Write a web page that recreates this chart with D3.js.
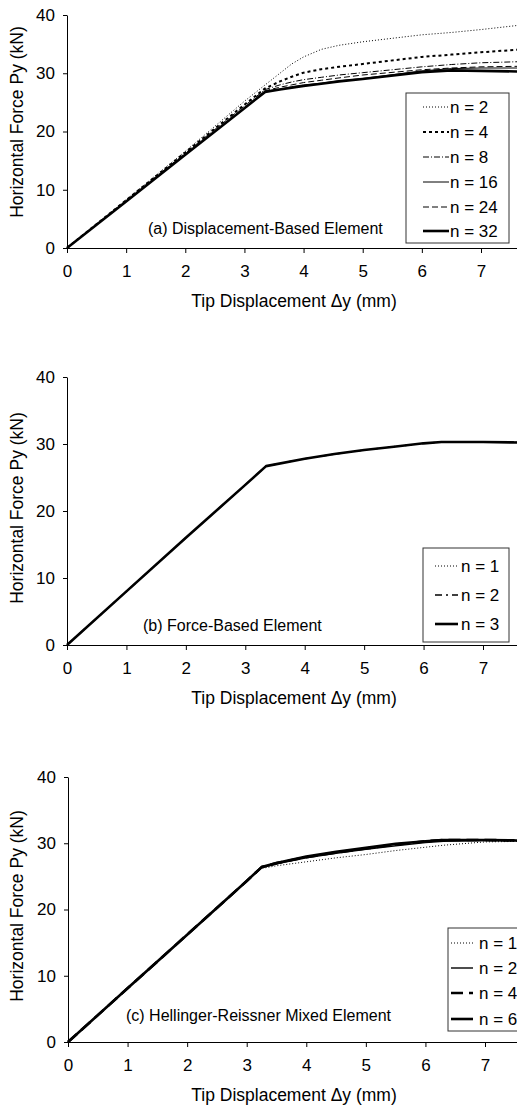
<!DOCTYPE html>
<html>
<head>
<meta charset="utf-8">
<script src="https://cdn.jsdelivr.net/npm/d3@7"></script>
<style>
body { margin: 0; background: #fff; }
text { font-family: Arial, "Liberation Sans", sans-serif; fill: #000; }
</style>
</head>
<body>
<script>
var W = 517, H = 1108;

// axis ticks
var dispTicks = [0, 1, 2, 3, 4, 5, 6, 7];
var forceTicks = [0, 10, 20, 30, 40];

// (a) displacement-based element
var dispA = [0, 1, 2, 3, 3.35, 3.6, 3.8, 4, 4.3, 4.6, 5, 6, 6.5, 7, 7.7];
var aN2  = [0, 8.3, 16.6, 25.2, 28.0, 30.0, 31.6, 32.8, 34.1, 34.8, 35.4, 36.6, 37.0, 37.5, 38.3];
var aN4  = [0, 8.2, 16.4, 24.6, 27.4, 28.6, 29.4, 30.1, 30.7, 31.1, 31.6, 32.8, 33.2, 33.6, 34.1];
var aN8  = [0, 8.1, 16.3, 24.4, 27.2, 28.0, 28.5, 28.9, 29.3, 29.7, 30.1, 31.1, 31.5, 31.8, 32.0];
var aN16 = [0, 8.0, 16.0, 24.0, 26.9, 27.3, 27.7, 28.0, 28.3, 28.7, 29.1, 30.4, 30.8, 30.9, 30.9];
var aN24 = [0, 8.0, 16.1, 24.1, 27.0, 27.6, 28.0, 28.4, 28.8, 29.2, 29.7, 30.6, 30.9, 31.1, 31.2];
var aN32 = [0, 8.0, 16.0, 24.0, 26.8, 27.2, 27.5, 27.8, 28.2, 28.6, 29.0, 30.2, 30.5, 30.4, 30.3];

// (b) force-based element
var dispB = [0, 1, 2, 3, 3.35, 4, 4.5, 5, 5.5, 6, 6.3, 7, 7.7];
var bN1 = [0, 8.0, 16.0, 23.9, 26.7, 27.8, 28.5, 29.1, 29.6, 30.1, 30.3, 30.3, 30.3];
var bN2 = [0, 8.0, 16.0, 23.9, 26.7, 27.8, 28.5, 29.1, 29.6, 30.1, 30.3, 30.3, 30.3];
var bN3 = [0, 8.0, 16.0, 23.9, 26.7, 27.8, 28.5, 29.1, 29.6, 30.1, 30.3, 30.3, 30.2];

// (c) Hellinger-Reissner mixed element
var dispC = [0, 1, 2, 3, 3.25, 3.5, 4, 4.5, 5, 5.5, 6, 6.3, 7, 7.7];
var cN1 = [0, 8.1, 16.2, 24.3, 26.2, 26.6, 27.2, 27.8, 28.3, 28.9, 29.4, 29.7, 30.2, 30.3];
var cN2 = [0, 8.1, 16.2, 24.3, 26.3, 26.9, 27.8, 28.5, 29.1, 29.6, 30.1, 30.3, 30.4, 30.4];
var cN4 = [0, 8.1, 16.2, 24.3, 26.4, 27.0, 27.9, 28.6, 29.2, 29.8, 30.3, 30.5, 30.5, 30.4];
var cN6 = [0, 8.1, 16.2, 24.3, 26.4, 27.0, 28.0, 28.7, 29.3, 29.9, 30.3, 30.5, 30.5, 30.4];

// line styles
var dotted = {w: 1, dash: "1,2"};
var thickDot = {w: 2, dash: "3,3"};
var dashDot = {w: 1, dash: "6,2,1,2"};
var thin = {w: 1, dash: null};
var dashed = {w: 1, dash: "6,3"};
var thick = {w: 2.6, dash: null};
var longDashDot = {w: 1.5, dash: "7,4,2,4"};
var midSolid = {w: 1.4, dash: null};
var longDash = {w: 2.6, dash: "12,6"};

var tickFont = 17, titleFont = 17.5, noteFont = 16, legFont = 17;

var svg = d3.select("body").append("svg")
  .attr("width", W)
  .attr("height", H);

function drawPanel(p) {
  var x = d3.scaleLinear().domain([0, 7]).range([p.x0, p.x7]);
  var y = d3.scaleLinear().domain([0, 40]).range([p.y0, p.y40]);
  var g = svg.append("g");

  // x axis
  g.append("g")
    .attr("transform", "translate(0," + p.y0 + ")")
    .call(d3.axisBottom(x).tickValues(dispTicks).tickFormat(d3.format("d"))
      .tickSize(5).tickSizeOuter(0).tickPadding(12))
    .call(function(a) {
      a.select(".domain").attr("d", "M" + p.x0 + ",0.5H" + W);
      a.selectAll("text").attr("font-size", tickFont).style("font-family", "Arial, 'Liberation Sans', sans-serif");
    });

  // y axis
  g.append("g")
    .attr("transform", "translate(" + p.x0 + ",0)")
    .call(d3.axisLeft(y).tickValues(forceTicks).tickSize(4).tickSizeOuter(0).tickPadding(8))
    .call(function(a) {
      a.selectAll("text").attr("font-size", tickFont).style("font-family", "Arial, 'Liberation Sans', sans-serif");
    });

  g.append("text")
    .attr("x", 294)
    .attr("y", p.y0 + 59)
    .attr("text-anchor", "middle")
    .attr("font-size", titleFont)
    .text("Tip Displacement \u0394y  (mm)");

  g.append("text")
    .attr("transform", "translate(23," + p.ylabY + ") rotate(-90)")
    .attr("text-anchor", "middle")
    .attr("font-size", titleFont)
    .text("Horizontal Force Py (kN)");

  g.append("text")
    .attr("x", p.labelX)
    .attr("y", p.labelY)
    .attr("font-size", noteFont)
    .text(p.label);

  var line = d3.line()
    .x(function(d) { return x(d[0]); })
    .y(function(d) { return y(d[1]); });

  p.series.forEach(function(s) {
    var pts = p.disp.map(function(d, i) { return [d, s.vals[i]]; });
    g.append("path")
      .attr("d", line(pts))
      .attr("fill", "none")
      .attr("stroke", "#000")
      .attr("stroke-width", s.style.w)
      .attr("stroke-linejoin", "round")
      .attr("stroke-dasharray", s.style.dash);
  });

  // legend
  var L = p.legend;
  g.append("rect")
    .attr("x", L.x).attr("y", L.y)
    .attr("width", L.w).attr("height", L.h)
    .attr("fill", "#fff")
    .attr("stroke", "#333")
    .attr("stroke-width", 1);
  p.series.forEach(function(s, i) {
    var ly = L.rows[i];
    g.append("line")
      .attr("x1", L.lx1).attr("x2", L.lx2)
      .attr("y1", ly).attr("y2", ly)
      .attr("stroke", "#000")
      .attr("stroke-width", s.style.w)
      .attr("stroke-dasharray", s.style.dash);
    g.append("text")
      .attr("x", L.tx)
      .attr("y", ly)
      .attr("dy", "0.35em")
      .attr("font-size", legFont)
      .text(s.name);
  });
}

drawPanel({
  x0: 67, x7: 481, y0: 248, y40: 15, ylabY: 122,
  disp: dispA,
  label: "(a) Displacement-Based Element", labelX: 148, labelY: 234,
  series: [
    {name: "n = 2", vals: aN2, style: dotted},
    {name: "n = 4", vals: aN4, style: thickDot},
    {name: "n = 8", vals: aN8, style: dashDot},
    {name: "n = 16", vals: aN16, style: thin},
    {name: "n = 24", vals: aN24, style: dashed},
    {name: "n = 32", vals: aN32, style: thick}
  ],
  legend: {x: 406, y: 93, w: 103, h: 150, lx1: 423, lx2: 449, tx: 450,
    rows: [107, 132, 157, 182, 207, 231]}
});

drawPanel({
  x0: 67, x7: 483, y0: 645, y40: 377, ylabY: 508,
  disp: dispB,
  label: "(b) Force-Based Element", labelX: 143, labelY: 631,
  series: [
    {name: "n = 1", vals: bN1, style: dotted},
    {name: "n = 2", vals: bN2, style: longDashDot},
    {name: "n = 3", vals: bN3, style: thick}
  ],
  legend: {x: 423, y: 548, w: 86, h: 94, lx1: 435, lx2: 458, tx: 461,
    rows: [566, 595, 624]}
});

drawPanel({
  x0: 68, x7: 485, y0: 1042, y40: 777, ylabY: 906,
  disp: dispC,
  label: "(c) Hellinger-Reissner Mixed Element", labelX: 126, labelY: 1021,
  series: [
    {name: "n = 1", vals: cN1, style: dotted},
    {name: "n = 2", vals: cN2, style: midSolid},
    {name: "n = 4", vals: cN4, style: longDash},
    {name: "n = 6", vals: cN6, style: thick}
  ],
  legend: {x: 448, y: 928, w: 75, h: 103, lx1: 451, lx2: 473, tx: 479,
    rows: [943, 968, 993, 1019]}
});
</script>
</body>
</html>
